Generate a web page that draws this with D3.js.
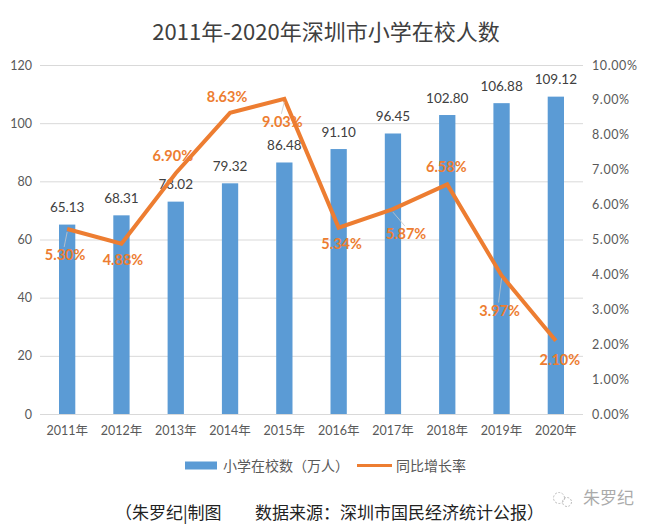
<!DOCTYPE html>
<html><head><meta charset="utf-8">
<script src="https://cdn.jsdelivr.net/npm/d3@7"></script>
<style>
body{margin:0;background:#fff;}
svg{display:block;}
</style></head>
<body>
<svg id="c" width="650" height="529"></svg>
<script>
const years = ["2011年","2012年","2013年","2014年","2015年","2016年","2017年","2018年","2019年","2020年"];
const students = [65.13,68.31,73.02,79.32,86.48,91.10,96.45,102.80,106.88,109.12];
const growth = [5.30,4.88,6.90,8.63,9.03,5.34,5.87,6.58,3.97,2.10];
const leftTicks = [0,20,40,60,80,100,120];
const rightTicks = [0,1,2,3,4,5,6,7,8,9,10];
// label offsets (dx, dy) of each growth label centre from its point, as placed in the source
const growthLabelOffset = [[-2,26],[1.5,16],[-3,-17],[-3,-16],[-2,23],[3,16],[13,25],[-1,-17],[-2,35],[4,19]];
const withLeader = [0,4,6,8];

const svg = d3.select("#c");
const margin = {left:40,right:583,top:65,bottom:414};
const x = d3.scaleBand().domain(years).range([margin.left, margin.right]).paddingInner(0.7).paddingOuter(0.35);
const y = d3.scaleLinear().domain([0,120]).range([margin.bottom, margin.top]);
const y2 = d3.scaleLinear().domain([0,10]).range([margin.bottom, margin.top]);
const numFont = "Lato, 'Noto Sans CJK SC', sans-serif";
const cjk = "'Noto Sans CJK SC', sans-serif";

// title
svg.append("text").attr("x",326).attr("y",40).attr("text-anchor","middle")
  .attr("font-family",cjk).attr("font-size",22).attr("fill","#404040")
  .text("2011年-2020年深圳市小学在校人数");

// gridlines
svg.append("g").selectAll("line").data(leftTicks).join("line")
  .attr("x1",margin.left).attr("x2",margin.right)
  .attr("y1",d=>y(d)+0.5).attr("y2",d=>y(d)+0.5)
  .attr("stroke","#d9d9d9").attr("stroke-width",1);

// left axis
const la = svg.append("g").attr("transform",`translate(${margin.left-8},0)`)
  .call(d3.axisLeft(y).tickValues(leftTicks).tickSize(0).tickPadding(0));
la.select(".domain").remove();
la.selectAll("text").attr("font-family",numFont).attr("font-size",12.5).attr("fill","#595959");

// right axis
const ra = svg.append("g").attr("transform",`translate(592,0)`)
  .call(d3.axisRight(y2).tickValues(rightTicks).tickSize(0).tickPadding(0).tickFormat(d=>d3.format(".2f")(d)+"%"));
ra.select(".domain").remove();
ra.selectAll("text").attr("font-family",numFont).attr("font-size",12.5).attr("fill","#595959").attr("letter-spacing",0.6);

// x axis labels
const xa = svg.append("g").attr("transform",`translate(0,${margin.bottom+8})`)
  .call(d3.axisBottom(x).tickSize(0).tickPadding(4));
xa.select(".domain").remove();
xa.selectAll("text").attr("font-family",numFont).attr("font-size",12.5).attr("fill","#595959");

// bars
svg.append("g").selectAll("rect").data(students).join("rect")
  .attr("x",(d,i)=>x(years[i])).attr("width",x.bandwidth())
  .attr("y",d=>y(d)).attr("height",d=>y(0)-y(d)).attr("fill","#5B9BD5");

// bar labels
svg.append("g").selectAll("text").data(students).join("text")
  .attr("x",(d,i)=>x(years[i])+x.bandwidth()/2).attr("y",d=>y(d)-12.5)
  .attr("text-anchor","middle").attr("font-family",numFont).attr("font-size",13.5).attr("fill","#404040")
  .text(d=>d3.format(".2f")(d));

// line
const cx = i => x(years[i])+x.bandwidth()/2;
const line = d3.line().x((d,i)=>cx(i)).y(d=>y2(d));
svg.append("path").datum(growth).attr("d",line).attr("fill","none")
  .attr("stroke","#ED7D31").attr("stroke-width",4).attr("stroke-linejoin","miter");

// leader lines (faint)
svg.append("g").selectAll("line").data(withLeader).join("line")
  .attr("x1",i=>cx(i)).attr("y1",i=>y2(growth[i])+3)
  .attr("x2",i=>cx(i)+growthLabelOffset[i][0]-1).attr("y2",i=>y2(growth[i])+growthLabelOffset[i][1]-8)
  .attr("stroke","#c8c8c8").attr("stroke-width",0.8);

// growth labels
svg.append("g").selectAll("text").data(growth).join("text")
  .attr("x",(d,i)=>cx(i)+growthLabelOffset[i][0]).attr("y",(d,i)=>y2(d)+growthLabelOffset[i][1])
  .attr("dy","0.35em").attr("text-anchor","middle").attr("font-family",numFont).attr("font-weight","bold")
  .attr("font-size",14.5).attr("fill","#ED7D31")
  .text(d=>d3.format(".2f")(d)+"%");

// legend
const lg = svg.append("g");
lg.append("rect").attr("x",185).attr("y",461.5).attr("width",32).attr("height",8).attr("fill","#5B9BD5");
lg.append("text").attr("x",223).attr("y",470.5).attr("font-family",cjk).attr("font-size",14).attr("fill","#595959").text("小学在校数（万人）");
lg.append("line").attr("x1",357).attr("x2",392).attr("y1",465.5).attr("y2",465.5).attr("stroke","#ED7D31").attr("stroke-width",3);
lg.append("text").attr("x",396).attr("y",470.5).attr("font-family",cjk).attr("font-size",14).attr("fill","#595959").text("同比增长率");

// footer
svg.append("text").attr("x",115).attr("y",519).attr("font-family",cjk).attr("font-size",17).attr("fill","#222")
  .text("（朱罗纪|制图");
svg.append("text").attr("x",255).attr("y",519).attr("font-family",cjk).attr("font-size",17).attr("fill","#222")
  .text("数据来源：深圳市国民经济统计公报）");
// watermark
const wm = svg.append("g").attr("opacity",0.55);
wm.append("circle").attr("cx",559).attr("cy",498).attr("r",5.5).attr("fill","none").attr("stroke","#888").attr("stroke-width",1).attr("stroke-dasharray","2,1.5");
wm.append("circle").attr("cx",567).attr("cy",502).attr("r",4.5).attr("fill","none").attr("stroke","#888").attr("stroke-width",1).attr("stroke-dasharray","2,1.5");
wm.append("text").attr("x",583).attr("y",504).attr("font-family",cjk).attr("font-size",17).attr("fill","#666").text("朱罗纪");
</script>
</body></html>
